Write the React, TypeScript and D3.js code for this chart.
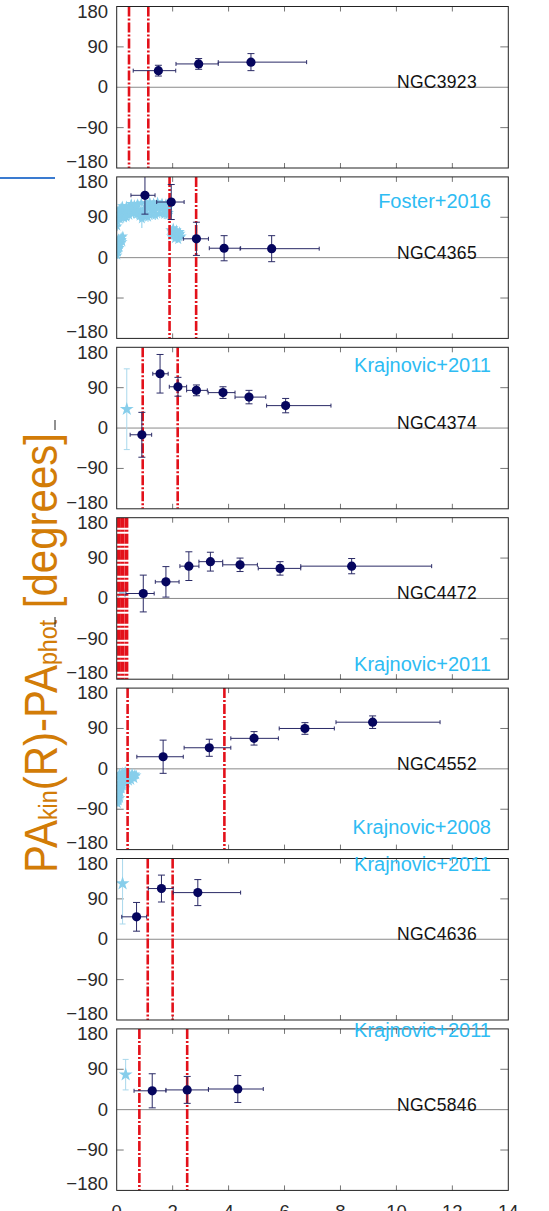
import React from "react";
import * as d3 from "d3";

// ---------- data ----------
const galaxyNames = ["NGC3923", "NGC4365", "NGC4374", "NGC4472", "NGC4552", "NGC4636", "NGC5846"];
const refLabels = ["", "Foster+2016", "Krajnovic+2011", "Krajnovic+2011", "Krajnovic+2008", "Krajnovic+2011", "Krajnovic+2011"];

// [R, PA, PA error, R min, R max]
const ngc3923Points = [[1.49, 37, 12, 0.59, 2.11], [2.93, 52, 12, 2.12, 3.63], [4.8, 56, 19, 3.63, 6.79]];
const ngc4365Points = [[1.01, 139, 42, 0.51, 1.37], [1.95, 124, 39, 1.43, 2.41], [2.85, 42, 37, 2.38, 3.28], [3.84, 21, 28, 3.31, 4.43], [5.54, 20, 29, 4.41, 7.24]];
const ngc4374Points = [[0.9, -15, 50, 0.48, 1.25], [1.55, 121, 43, 1.29, 1.84], [2.19, 92, 21, 1.88, 2.5], [2.85, 84, 12, 2.5, 3.24], [3.8, 79, 13, 3.27, 4.23], [4.73, 69, 15, 4.23, 5.33], [6.04, 50, 16, 5.36, 7.66]];
const ngc4472Points = [[0.95, 11, 41, 0.33, 1.34], [1.76, 37, 34, 1.38, 2.23], [2.58, 72, 32, 2.26, 2.94], [3.35, 82, 21, 2.94, 3.79], [4.41, 75, 15, 3.79, 5.03], [5.84, 67, 15, 5.06, 6.58], [8.4, 72, 17, 6.58, 11.26]];
const ngc4552Points = [[1.66, 27, 37, 0.72, 2.38], [3.31, 47, 19, 2.41, 4.08], [4.91, 68, 15, 4.08, 5.78], [6.73, 90, 13, 5.81, 7.78], [9.15, 104, 14, 7.84, 11.56]];
const ngc4636Points = [[0.71, 50, 32, 0.18, 1.07], [1.6, 113, 30, 1.13, 2.02], [2.9, 104, 29, 2.02, 4.43]];
const ngc5846Points = [[1.27, 42, 38, 0.62, 1.76], [2.52, 44, 30, 1.76, 3.28], [4.33, 46, 30, 3.28, 5.24]];

// vertical red dash-dot lines (R)
const ngc3923Lines = [0.44, 1.13];
const ngc4365Lines = [1.89, 2.84];
const ngc4374Lines = [0.93, 2.18];
const ngc4472Lines = [0.08, 0.21, 0.35];
const ngc4552Lines = [0.39, 3.85];
const ngc4636Lines = [1.11, 2.0];
const ngc5846Lines = [0.81, 2.52];

// literature points [R, PA, PA error]
const ngc3923Lit: number[][] = [];
const ngc4365Lit = [
  [0.02, 5, 8], [0.04, 12, 10], [0.06, 18, 8], [0.08, 28, 10], [0.1, 22, 8], [0.12, 32, 10], [0.13, 38, 10],
  [0.16, 45, 8], [0.18, 40, 8], [0.2, 35, 8], [0.22, 48, 8], [0.06, 42, 8], [0.03, 30, 8],
  [0.02, 70, 10], [0.03, 80, 10], [0.06, 88, 10], [0.08, 92, 10], [0.12, 85, 8], [0.15, 98, 10], [0.18, 95, 10],
  [0.22, 100, 8], [0.25, 88, 10], [0.28, 108, 10], [0.32, 98, 8], [0.35, 90, 10], [0.38, 105, 10], [0.42, 112, 8],
  [0.45, 94, 10], [0.48, 102, 10], [0.52, 120, 8], [0.55, 110, 8], [0.6, 98, 10], [0.63, 118, 8], [0.66, 104, 8],
  [0.72, 96, 10], [0.75, 120, 8], [0.78, 108, 8], [0.82, 92, 10], [0.85, 100, 12], [0.88, 122, 8], [0.9, 86, 20],
  [0.95, 104, 10], [0.98, 92, 10], [1.02, 110, 8], [1.05, 122, 8], [1.08, 98, 12], [1.12, 90, 10], [1.15, 112, 10],
  [1.18, 124, 8], [1.22, 106, 8], [1.25, 95, 10], [1.28, 115, 10], [1.32, 122, 8], [1.35, 104, 8], [1.38, 94, 10],
  [1.42, 110, 10], [1.46, 124, 8], [1.5, 118, 8], [1.54, 98, 10], [1.58, 108, 10], [1.62, 122, 8], [1.65, 114, 8],
  [1.7, 96, 10], [1.72, 104, 10], [1.76, 120, 8], [1.8, 110, 8], [1.84, 95, 10], [1.86, 100, 10], [1.88, 114, 8],
  [0.05, 100, 8], [0.1, 108, 8], [0.15, 110, 8], [0.2, 115, 8], [0.35, 115, 8], [0.7, 116, 8], [1.1, 118, 8],
  [1.92, 62, 6], [1.95, 48, 6], [1.98, 56, 8], [2.02, 66, 6], [2.04, 50, 6], [2.08, 42, 6], [2.1, 58, 6],
  [2.14, 62, 6], [2.16, 52, 8], [2.2, 40, 6], [2.22, 46, 6], [2.25, 58, 6], [2.28, 54, 6], [2.32, 48, 6],
];
const ngc4374Lit = [[0.36, 42, 90]];
const ngc4472Lit = [[0.18, 15, 6]];
const ngc4552Lit = [
  [0.02, -70, 8], [0.03, -58, 8], [0.04, -78, 6], [0.06, -62, 8], [0.07, -72, 6], [0.08, -55, 8], [0.1, -48, 8],
  [0.12, -65, 6], [0.13, -52, 6], [0.14, -40, 8], [0.16, -35, 8], [0.18, -45, 6], [0.2, -28, 8], [0.22, -38, 6],
  [0.24, -22, 6], [0.28, -30, 8], [0.3, -18, 6], [0.34, -25, 8], [0.36, -32, 6], [0.38, -15, 6], [0.42, -20, 8],
  [0.44, -28, 6], [0.46, -12, 6], [0.5, -18, 6], [0.52, -26, 6], [0.55, -10, 6], [0.6, -16, 8], [0.63, -22, 6],
  [0.65, -12, 6], [0.7, -14, 6], [0.04, -20, 6], [0.06, -40, 6], [0.08, -30, 6], [0.1, -10, 6], [0.12, -15, 6],
  [0.16, -22, 8], [0.2, -8, 6], [0.22, -12, 6], [0.27, -8, 6], [0.32, -6, 6],
];
const ngc4636Lit = [[0.21, 124, 90]];
const ngc5846Lit = [[0.32, 78, 34]];

const yTicks = [-180, -90, 0, 90, 180];
const xTicks = [0, 2, 4, 6, 8, 10, 12, 14];

const panelPoints = [ngc3923Points, ngc4365Points, ngc4374Points, ngc4472Points, ngc4552Points, ngc4636Points, ngc5846Points];
const panelLines = [ngc3923Lines, ngc4365Lines, ngc4374Lines, ngc4472Lines, ngc4552Lines, ngc4636Lines, ngc5846Lines];
const panelLit = [ngc3923Lit, ngc4365Lit, ngc4374Lit, ngc4472Lit, ngc4552Lit, ngc4636Lit, ngc5846Lit];

// ---------- layout ----------
const W = 549;
const H = 1211;
const plotLeft = 116.7;
const plotRight = 508.3;
const panelTop0 = 6.5;
const panelStep = 170.4;
const panelH = 161.5;
const refLabelPA = [0, 111, 124, -161, -146, 153, 161];
const cloudPanels = [1, 4];
const thickLinePanels = [3];

const navy = "#05055e";
const errCol = "#2a2a66";
const red = "#e3111a";
const lightBlue = "#87ceeb";
const lightBlueErr = "#a9d8ec";
const refBlue = "#2ebcf3";
const titleOrange = "#d27c07";
const fontFam = "'Liberation Sans', Arial, Helvetica, sans-serif";

const x = d3.scaleLinear().domain([0, 14]).range([plotLeft, plotRight]);
const starBig = d3.symbol().type(d3.symbolStar).size(60)() as string;
const starSmall = d3.symbol().type(d3.symbolStar).size(34)() as string;

function Panel({ i }: { i: number }) {
  const top = panelTop0 + i * panelStep;
  const y = d3.scaleLinear().domain([-180, 180]).range([top + panelH, top]);
  const clipId = `clip${i}`;
  const isCloud = cloudPanels.includes(i);
  const lineW = thickLinePanels.includes(i) ? 3.8 : 2.6;
  return (
    <g>
      <defs>
        <clipPath id={clipId}>
          <rect x={plotLeft} y={top} width={plotRight - plotLeft} height={panelH} />
        </clipPath>
      </defs>
      {/* zero line */}
      <line x1={plotLeft} x2={plotRight} y1={y(0)} y2={y(0)} stroke="#8a8a8a" strokeWidth={1} />
      {/* y ticks */}
      {yTicks.filter((t) => Math.abs(t) === 90).map((t) => (
        <g key={t}>
          <line x1={plotLeft} x2={plotLeft + 7} y1={y(t)} y2={y(t)} stroke="#777" strokeWidth={1} />
          <line x1={plotRight - 8} x2={plotRight} y1={y(t)} y2={y(t)} stroke="#777" strokeWidth={1} />
        </g>
      ))}
      {/* x ticks */}
      {xTicks.slice(1, -1).map((t) => (
        <g key={t}>
          <line x1={x(t)} x2={x(t)} y1={top} y2={top + 5} stroke="#777" strokeWidth={1} />
          <line x1={x(t)} x2={x(t)} y1={top + panelH - 5} y2={top + panelH} stroke="#777" strokeWidth={1} />
        </g>
      ))}
      {/* y tick labels */}
      {yTicks.map((t) => (
        <text
          key={t}
          x={108}
          y={y(t) + (t === 180 ? 6.5 : t === -180 ? -5 : 1)}
          textAnchor="end"
          dominantBaseline="middle"
          fontFamily={fontFam}
          fontSize={18.5}
          fill="#2a2a2a"
        >
          {t < 0 ? `\u2212${Math.abs(t)}` : `${t}`}
        </text>
      ))}
      <g clipPath={`url(#${clipId})`}>
        {/* literature data */}
        {panelLit[i].map((d, k) => (
          <g key={`l${k}`}>
            <line x1={x(d[0])} x2={x(d[0])} y1={y(d[1] - d[2])} y2={y(d[1] + d[2])} stroke={isCloud ? lightBlue : lightBlueErr} strokeWidth={1} />
            {isCloud ? (
              <line x1={x(d[0]) - 3.5} x2={x(d[0]) + 3.5} y1={y(d[1])} y2={y(d[1])} stroke={lightBlue} strokeWidth={1.2} />
            ) : (
              <>
                <line x1={x(d[0]) - 3} x2={x(d[0]) + 3} y1={y(d[1] - d[2])} y2={y(d[1] - d[2])} stroke={lightBlueErr} strokeWidth={1} />
                <line x1={x(d[0]) - 3} x2={x(d[0]) + 3} y1={y(d[1] + d[2])} y2={y(d[1] + d[2])} stroke={lightBlueErr} strokeWidth={1} />
              </>
            )}
            <path d={isCloud ? starSmall : starBig} transform={`translate(${x(d[0])},${y(d[1])})`} fill={lightBlue} />
          </g>
        ))}
        {/* red lines */}
        {panelLines[i].map((v, k) => (
          <line
            key={`r${k}`}
            x1={x(v)}
            x2={x(v)}
            y1={top}
            y2={top + panelH}
            stroke={red}
            strokeWidth={lineW}
            strokeDasharray="10,2,2,2"
          />
        ))}
        {/* main points */}
        {panelPoints[i].map((d, k) => {
          const cx = x(d[0]);
          const cy = y(d[1]);
          const y1 = y(d[1] - d[2]);
          const y2 = y(d[1] + d[2]);
          const xa = x(d[3]);
          const xb = x(d[4]);
          return (
            <g key={`p${k}`}>
              <line x1={cx} x2={cx} y1={y1} y2={y2} stroke={errCol} strokeWidth={1} />
              <line x1={cx - 3.5} x2={cx + 3.5} y1={y1} y2={y1} stroke={errCol} strokeWidth={1} />
              <line x1={cx - 3.5} x2={cx + 3.5} y1={y2} y2={y2} stroke={errCol} strokeWidth={1} />
              <line x1={xa} x2={xb} y1={cy} y2={cy} stroke={errCol} strokeWidth={1} />
              <line x1={xa} x2={xa} y1={cy - 2} y2={cy + 2} stroke={errCol} strokeWidth={1} />
              <line x1={xb} x2={xb} y1={cy - 2} y2={cy + 2} stroke={errCol} strokeWidth={1} />
              <circle cx={cx} cy={cy} r={4.6} fill={navy} />
            </g>
          );
        })}
      </g>
      {/* frame */}
      <rect x={plotLeft} y={top} width={plotRight - plotLeft} height={panelH} fill="none" stroke="#222" strokeWidth={1} />
      {/* galaxy name */}
      <text x={397} y={y(0) + 1} fontFamily={fontFam} fontSize={17.5} fill="#111" letterSpacing={0.3}>
        {galaxyNames[i]}
      </text>
      {refLabels[i] && (
        <text x={491} y={y(refLabelPA[i])} textAnchor="end" fontFamily={fontFam} fontSize={20} fill={refBlue}>
          {refLabels[i]}
        </text>
      )}
    </g>
  );
}

export default function App() {
  const lastBottom = panelTop0 + 6 * panelStep + panelH;
  return (
    <svg
      width={W}
      height={H}
      viewBox={`0 0 ${W} ${H}`}
      style={{ position: "absolute", left: 0, top: 0, background: "#fff" }}
    >
      <rect x={0} y={0} width={W} height={H} fill="#fff" />
      {galaxyNames.map((_, i) => (
        <Panel key={i} i={i} />
      ))}
      {/* x tick labels (cut by page edge, as in the original figure) */}
      {xTicks.map((t) => (
        <text key={t} x={x(t)} y={lastBottom + 28} textAnchor="middle" fontFamily={fontFam} fontSize={18.5} fill="#2a2a2a">
          {t}
        </text>
      ))}
      {/* y axis title */}
      <text
        transform="translate(57,873) rotate(-90)"
        fontFamily={fontFam}
        fontSize={47}
        fill={titleOrange}
        textLength={440}
        lengthAdjust="spacingAndGlyphs"
      >
        PA<tspan fontSize={26}>kin</tspan>(R)-PA<tspan fontSize={26}>phot</tspan> [degrees]
      </text>
      {/* slide artifacts */}
      <line x1={0} x2={55} y1={178} y2={178} stroke="#3a7bd0" strokeWidth={2} />
      <line x1={55} x2={55} y1={420} y2={430} stroke="#222" strokeWidth={1} />
      <line x1={55} x2={55} y1={617} y2={627} stroke="#222" strokeWidth={1} />
    </svg>
  );
}
